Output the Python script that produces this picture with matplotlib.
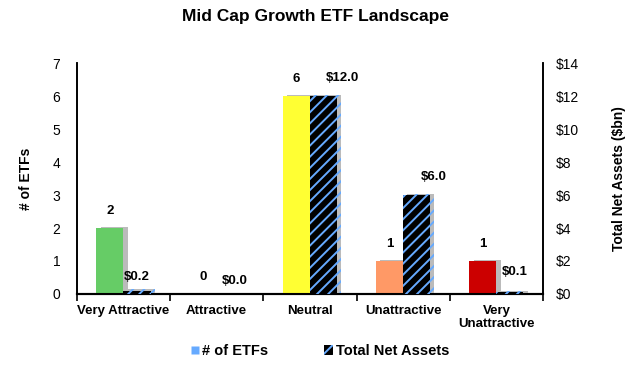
import matplotlib
matplotlib.use("Agg")
import matplotlib.pyplot as plt
import matplotlib.patheffects as pe
from matplotlib.patches import Patch
from matplotlib.lines import Line2D
import numpy as np

plt.rcParams['font.family'] = ['Liberation Sans', 'DejaVu Sans']
plt.rcParams['hatch.linewidth'] = 1.4
plt.rcParams['hatch.color'] = '#66AAFF'

categories = ["Very Attractive", "Attractive", "Neutral", "Unattractive", "Very\nUnattractive"]
etf_counts = [2, 0, 6, 1, 1]
net_assets = [0.2, 0.0, 12.0, 6.0, 0.1]
count_labels = ["2", "0", "6", "1", "1"]
asset_labels = ["$0.2", "$0.0", "$12.0", "$6.0", "$0.1"]
bar_colors = ["#66CC66", "#00B050", "#FFFF33", "#FF9966", "#CC0000"]
left_ticks = [0, 1, 2, 3, 4, 5, 6, 7]
right_ticks = [0, 2, 4, 6, 8, 10, 12, 14]

# label nudges (style only)
asset_dx = [0.0, 0.05, 0.2, 0.18, 0.05]
asset_dy = [0.45, 0.45, 0.75, 0.75, 0.85]

fig = plt.figure(figsize=(6.3, 3.67), dpi=100)
ax = fig.add_axes([0.122, 0.199, 0.740, 0.629])
ax2 = ax.twinx()

x = np.arange(len(categories))
w = 0.29
shadow = [pe.SimplePatchShadow(offset=(3, 1), shadow_rgbFace='#b4b4b4', alpha=0.9), pe.Normal()]

b1 = ax.bar(x - w / 2, etf_counts, w, color=bar_colors, edgecolor='none', zorder=3)
for b in b1:
    b.set_path_effects(shadow)
b2 = ax2.bar(x + w / 2, net_assets, w, color='black', edgecolor='#66AAFF', linewidth=0,
             hatch='///', zorder=3)
for b in b2:
    b.set_path_effects(shadow)

for i in range(len(categories)):
    ax.text(x[i] - w / 2, etf_counts[i] + 0.33, count_labels[i], ha='center', va='bottom',
            fontsize=9.5, fontweight='bold')
    ax2.text(x[i] + w / 2 + asset_dx[i], net_assets[i] + asset_dy[i], asset_labels[i],
             ha='center', va='bottom', fontsize=9.5, fontweight='bold')

ax.set_xlim(-0.5, len(categories) - 0.5)
ax.set_ylim(0, 7)
ax2.set_ylim(0, 14)
ax.set_yticks(left_ticks)
ax2.set_yticks(right_ticks)
ax2.set_yticklabels([f"${t}" for t in right_ticks])
ax.tick_params(axis='y', length=0, labelsize=10, pad=12)
ax2.tick_params(axis='y', length=0, labelsize=10, pad=9)

ax.set_xticks(x)
ax.set_xticklabels(categories, fontweight='bold', fontsize=9.5, linespacing=1.05)
ax.tick_params(axis='x', length=0, pad=8)
ax.set_xticks(np.arange(-0.5, len(categories), 1.0), minor=True)
ax.tick_params(axis='x', which='minor', length=5, width=1.2, direction='out')

for a in (ax, ax2):
    a.spines['top'].set_visible(False)
    a.spines['left'].set_linewidth(1.2)
    a.spines['right'].set_linewidth(1.2)
    a.spines['bottom'].set_linewidth(1.5)

ax.set_ylabel("# of ETFs", fontweight='bold', fontsize=10, labelpad=14)
ax2.set_ylabel("Total Net Assets ($bn)", fontweight='bold', fontsize=10, labelpad=24)

fig.suptitle("Mid Cap Growth ETF Landscape", fontweight='bold', fontsize=12.5, y=0.975)

handles = [
    Line2D([0], [0], marker='s', color='none', markerfacecolor='#66AAFF', markeredgecolor='none',
           markersize=6),
    Patch(facecolor='black', edgecolor='#66AAFF', hatch='///', linewidth=0),
]
leg = fig.legend(handles, ["# of ETFs", "Total Net Assets"], loc='lower center',
                 bbox_to_anchor=(0.508, -0.012), ncol=2, frameon=False, handlelength=0.6,
                 handletextpad=0.2, columnspacing=3.85, prop={'weight': 'bold', 'size': 10.5})

fig.savefig("out.png", dpi=100)
